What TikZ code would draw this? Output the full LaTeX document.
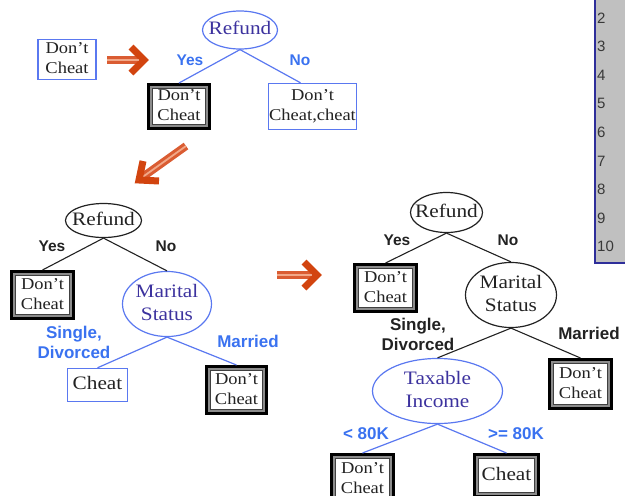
\documentclass[tikz,border=0pt]{standalone}
\usepackage{fontspec}
\setmainfont{Liberation Serif}[FakeStretch=1.12]
\newfontfamily\lblfont{Liberation Sans}
\usetikzlibrary{shapes.geometric,calc}

\definecolor{nodeblue}{HTML}{5A78F0}
\definecolor{lblblue}{HTML}{3A72F0}
\definecolor{inkblue}{HTML}{3C329E}
\definecolor{ink}{HTML}{222222}
\definecolor{arrowred}{HTML}{D2440F}
\definecolor{arrowmid}{HTML}{DA5C32}
\definecolor{arrowpale}{HTML}{F2A888}
\definecolor{tablegray}{HTML}{C0C0C0}
\definecolor{tableline}{HTML}{2E2E9A}

% text whose width does not stretch the shape around it
\newcommand{\nowidth}[1]{\makebox[0pt]{\begin{tabular}{@{}c@{}}#1\end{tabular}}}

\tikzset{
  ellfont/.style={font=\fontsize{19}{23}\selectfont},
  boxfont/.style={font=\fontsize{16.5}{20}\selectfont},
  ellblue/.style={ellipse, draw=nodeblue, line width=1.2pt, text=inkblue, inner sep=0pt, ellfont},
  ellblack/.style={ellipse, draw=ink, line width=1.2pt, text=ink, inner sep=0pt, ellfont},
  boxblue/.style={rectangle, draw=nodeblue, line width=1.4pt, text=ink, inner sep=0pt, boxfont},
  dcbox/.style={rectangle, draw=black, line width=3pt, text=ink, inner sep=0pt, boxfont,
    path picture={
      \draw[line width=7pt, black!45] (path picture bounding box.south west) rectangle (path picture bounding box.north east);
      \draw[line width=0.9pt, black!75] ([shift={(3.9pt,3.9pt)}]path picture bounding box.south west) rectangle ([shift={(-3.9pt,-3.9pt)}]path picture bounding box.north east);
    }},
  lbl/.style={inner sep=0pt, align=center, font=\lblfont\bfseries\fontsize{17}{20}\selectfont},
  yesno/.style={inner sep=0pt, font=\lblfont\bfseries\fontsize{15.5}{18}\selectfont},
  edgeblue/.style={draw=nodeblue, line width=1.2pt},
  edgeblack/.style={draw=ink, line width=1.1pt},
  shaftout/.style={line width=8pt, arrowmid},
  shaftin/.style={line width=1.8pt, arrowpale},
  chevron/.style={line width=7pt, arrowred, line join=miter, line cap=butt},
}

\begin{document}
\begin{tikzpicture}[x=1pt,y=-1pt]
\useasboundingbox (0,0) rectangle (625,496);

% corner of the data table
\fill[tablegray] (595,0) rectangle (625,262);
\draw[tableline, line width=1.6pt] (595,0) -- (595,263) -- (625,263);
\foreach \n [count=\i from 0] in {2,...,10}
  \node[anchor=west, inner sep=0pt, text=ink!90, font=\lblfont\fontsize{15}{15}\selectfont] (row\n) at (597,{18+28.6*\i}) {\n};

% ---------- first tree ----------
\node[boxblue, minimum width=58pt, minimum height=37pt] (dc0) at (67,59.5) {\nowidth{Don’t\\Cheat}};
\node[ellblue, minimum width=75pt, minimum height=38pt] (ref1) at (240,30) {\nowidth{Refund}};
\node[dcbox, minimum width=61pt, minimum height=44pt] (dc1) at (179,106.5) {\nowidth{Don’t\\Cheat}};
\node[boxblue, minimum width=88pt, minimum height=46pt] (dcc1) at (312.5,106.5) {\nowidth{Don’t\\Cheat,cheat}};
\draw[edgeblue] (ref1.south) -- (dc1.north);
\draw[edgeblue] (ref1.south) -- ([xshift=-12pt]dcc1.north);
\node[yesno, text=lblblue] (y1) at (190,60) {Yes};
\node[yesno, text=lblblue] (n1) at (300,60) {No};

% ---------- second tree ----------
\node[ellblack, minimum width=76pt, minimum height=34pt] (ref2) at (103.5,220.5) {\nowidth{Refund}};
\node[dcbox, minimum width=62pt, minimum height=47pt] (dc2) at (42.5,295) {\nowidth{Don’t\\Cheat}};
\node[ellblue, minimum width=89pt, minimum height=51pt] (mar2) at (167,304) {\nowidth{Marital\\Status}};
\node[boxblue, minimum width=60pt, minimum height=33pt, font=\fontsize{19}{23}\selectfont] (ch2) at (97.5,385) {\nowidth{Cheat}};
\node[dcbox, minimum width=60pt, minimum height=47pt] (dc3) at (236.5,390) {\nowidth{Don’t\\Cheat}};
\draw[edgeblack] (ref2.south) -- (dc2.north);
\draw[edgeblack] (ref2.south) -- (mar2.north);
\draw[edgeblue] (mar2.south) -- (ch2.north);
\draw[edgeblue] (mar2.south) -- (dc3.north);
\node[yesno, text=ink] (y2) at (52,246) {Yes};
\node[yesno, text=ink] (n2) at (166,246) {No};
\node[lbl, text=lblblue] (sd2) at (74,342) {Single,\\Divorced};
\node[lbl, text=lblblue] (m2) at (248,341) {Married};

% ---------- third tree ----------
\node[ellblack, minimum width=72pt, minimum height=40pt] (ref3) at (446.5,212.5) {\nowidth{Refund}};
\node[dcbox, minimum width=62pt, minimum height=47pt] (dc4) at (385.5,288) {\nowidth{Don’t\\Cheat}};
\node[ellblack, minimum width=91pt, minimum height=49pt] (mar3) at (511,295) {\nowidth{Marital\\Status}};
\node[dcbox, minimum width=62pt, minimum height=49pt] (dc5) at (580.5,384) {\nowidth{Don’t\\Cheat}};
\node[ellblue, minimum width=130pt, minimum height=57pt] (tax) at (437.5,391) {\nowidth{Taxable\\Income}};
\node[dcbox, minimum width=62pt, minimum height=49pt] (dc6) at (362.5,479) {\nowidth{Don’t\\Cheat}};
\node[dcbox, minimum width=64pt, minimum height=42pt, font=\fontsize{19}{23}\selectfont] (ch6) at (506.5,475.5) {\nowidth{Cheat}};
\draw[edgeblack] (ref3.south) -- (dc4.north);
\draw[edgeblack] (ref3.south) -- (mar3.north);
\draw[edgeblack] (mar3.south) -- (tax.north);
\draw[edgeblack] (mar3.south) -- (dc5.north);
\draw[edgeblue] (tax.south) -- (dc6.north);
\draw[edgeblue] (tax.south) -- (ch6.north);
\node[yesno, text=ink] (y3) at (397,240) {Yes};
\node[yesno, text=ink] (n3) at (508,240) {No};
\node[lbl, text=ink] (sd3) at (418,334) {Single,\\Divorced};
\node[lbl, text=ink] (m3) at (589,333) {Married};
\node[lbl, text=lblblue] (lt) at (366,434) {< 80K};
\node[lbl, text=lblblue] (ge) at (516,434) {>= 80K};

% ---------- step arrows ----------
\coordinate (a1s) at (107,60);
\coordinate (a1t) at (144,60);
\draw[shaftout] (a1s) -- ($(a1t)+(-6,0)$);
\draw[shaftin] (a1s) -- ($(a1t)+(-6,0)$);
\draw[chevron] ($(a1t)+(-13,-13)$) -- (a1t) -- ($(a1t)+(-13,13)$);

\coordinate (a2s) at (186,146);
\coordinate (a2t) at (139,180);
\draw[shaftout] (a2s) -- ($(a2t)+(5,-4)$);
\draw[shaftin] (a2s) -- ($(a2t)+(5,-4)$);
\draw[chevron] ($(a2t)+(4,-19)$) -- (a2t) -- ($(a2t)+(20,1)$);

\coordinate (a3s) at (277,275);
\coordinate (a3t) at (317,275);
\draw[shaftout] (a3s) -- ($(a3t)+(-6,0)$);
\draw[shaftin] (a3s) -- ($(a3t)+(-6,0)$);
\draw[chevron] ($(a3t)+(-13,-13)$) -- (a3t) -- ($(a3t)+(-13,13)$);
\end{tikzpicture}
\end{document}
